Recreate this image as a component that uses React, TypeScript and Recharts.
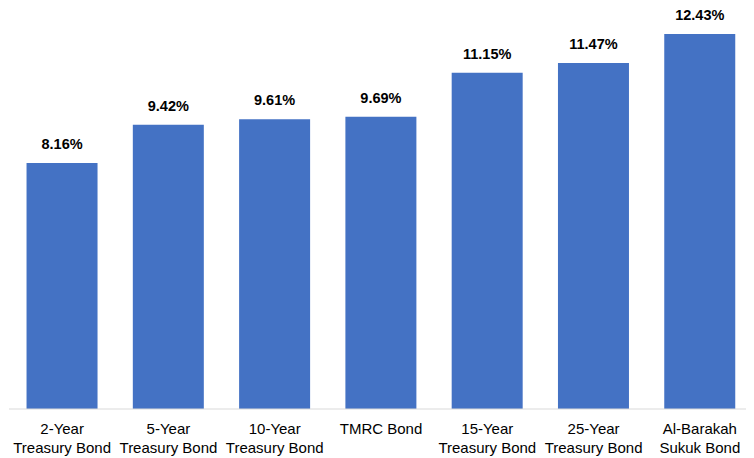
import { BarChart, Bar, XAxis, YAxis, LabelList } from "recharts";

// bond yields (%)
const categories = [
  "2-Year\nTreasury Bond",
  "5-Year\nTreasury Bond",
  "10-Year\nTreasury Bond",
  "TMRC Bond",
  "15-Year\nTreasury Bond",
  "25-Year\nTreasury Bond",
  "Al-Barakah\nSukuk Bond",
];
const yields = [8.16, 9.42, 9.61, 9.69, 11.15, 11.47, 12.43];

const data = categories.map((name, i) => ({ name, value: yields[i] }));

const font = "Arial, 'Liberation Sans', sans-serif";

function TwoLineTick(props: any) {
  const { x, y, payload } = props;
  const lines = String(payload.value).split("\n");
  return (
    <g transform={`translate(${x},${y})`}>
      {lines.map((line, i) => (
        <text
          key={i}
          x={0}
          y={17 + i * 18.5}
          textAnchor="middle"
          fill="#000"
          fontSize={15}
          fontFamily={font}
        >
          {line}
        </text>
      ))}
    </g>
  );
}

export default function App() {
  return (
    <div style={{ marginLeft: -8, marginTop: -8, background: "#fff", width: 754, height: 458 }}>
      <BarChart
        width={754}
        height={458}
        data={data}
        margin={{ top: 0, right: 1, left: 9, bottom: 0 }}
        barCategoryGap="16.5%"
      >
        <XAxis
          dataKey="name"
          interval={0}
          tickLine={false}
          axisLine={{ stroke: "#D9D9D9", strokeWidth: 1 }}
          height={49}
          tick={<TwoLineTick />}
        />
        <YAxis hide domain={[0, 13.56]} />
        <Bar dataKey="value" fill="#4472C4" isAnimationActive={false}>
          <LabelList
            dataKey="value"
            position="top"
            offset={14}
            formatter={(v: any) => `${Number(v).toFixed(2)}%`}
            style={{ fontWeight: 700, fontSize: 14.5, fill: "#000", fontFamily: font }}
          />
        </Bar>
      </BarChart>
    </div>
  );
}
